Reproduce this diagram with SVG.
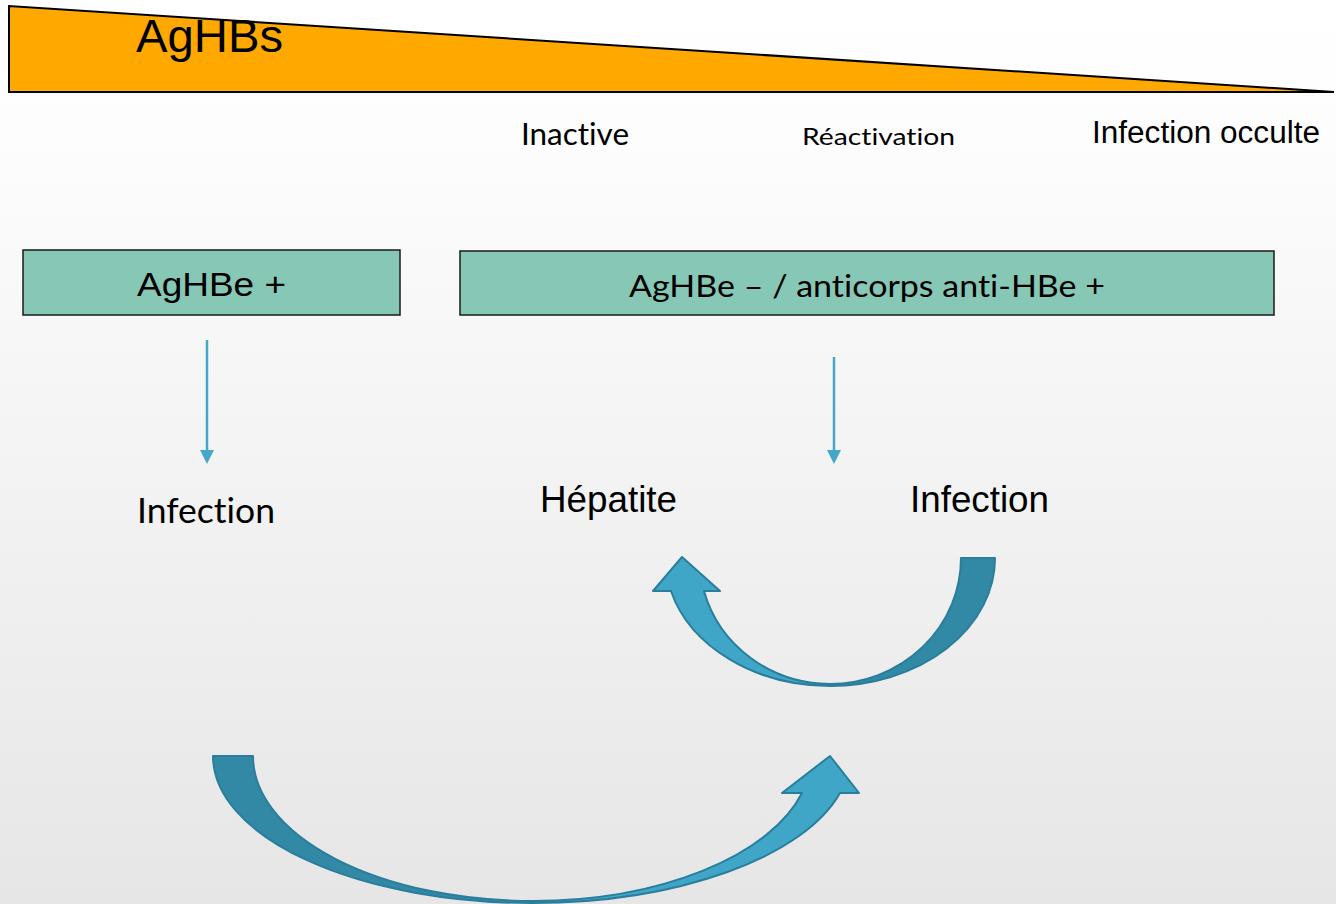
<svg xmlns="http://www.w3.org/2000/svg" width="1336" height="904" viewBox="0 0 1336 904">
  <defs>
    <linearGradient id="bg" x1="0" y1="0" x2="0" y2="1">
      <stop offset="0" stop-color="#ffffff"/>
      <stop offset="0.15" stop-color="#fdfdfd"/>
      <stop offset="1" stop-color="#e6e6e6"/>
    </linearGradient>
    <style>
      .arial { font-family: "Liberation Sans", Arial, sans-serif; fill: #000; }
      .goth { font-family: "Century Gothic", "URW Gothic", Lato, "DejaVu Sans", sans-serif; fill: #000; font-variant-ligatures: none; font-feature-settings: "liga" 0; }
      .box { fill: #86c7b6; stroke: #1a1a1a; stroke-width: 1.5; }
      .thin { stroke: #44a6c9; stroke-width: 2.5; fill: none; }
      .head { fill: #44a6c9; }
      .light { fill: #3fa6c8; stroke: #2a7e9c; stroke-width: 2; stroke-linejoin: round; }
      .dark { fill: #3189a5; stroke: #2a7e9c; stroke-width: 2; stroke-linejoin: round; }
    </style>
  </defs>
  <rect x="0" y="0" width="1336" height="904" fill="url(#bg)"/>

  <g id="aghbs">
    <polygon points="9,6 9,92 1334,92" fill="#ffa900" stroke="#000" stroke-width="2" stroke-linejoin="miter"/>
    <text class="arial" x="136" y="52" font-size="47" textLength="147" lengthAdjust="spacingAndGlyphs">AgHBs</text>
  </g>

  <g id="phase-labels">
    <text class="goth" x="521" y="145" font-size="30" textLength="108" lengthAdjust="spacingAndGlyphs">Inactive</text>
    <text class="goth" x="802" y="145" font-size="24" textLength="153" lengthAdjust="spacingAndGlyphs">Réactivation</text>
    <text class="arial" x="1092" y="143" font-size="31" textLength="228" lengthAdjust="spacingAndGlyphs">Infection occulte</text>
  </g>

  <g id="box-aghbe-pos">
    <rect class="box" x="23" y="250" width="377" height="65"/>
    <text class="arial" x="137" y="296" font-size="34" textLength="149" lengthAdjust="spacingAndGlyphs">AgHBe +</text>
  </g>

  <g id="box-aghbe-neg">
    <rect class="box" x="460" y="251" width="814" height="64"/>
    <text class="goth" x="629" y="297" font-size="31" textLength="476" lengthAdjust="spacingAndGlyphs">AgHBe – / anticorps anti-HBe +</text>
  </g>

  <g id="infection-left">
    <text class="goth" x="137" y="523" font-size="35" textLength="138" lengthAdjust="spacingAndGlyphs">Infection</text>
  </g>

  <g id="hepatite">
    <text class="arial" x="540" y="512" font-size="36" textLength="137" lengthAdjust="spacingAndGlyphs">Hépatite</text>
  </g>

  <g id="infection-right">
    <text class="arial" x="910" y="512" font-size="36" textLength="139" lengthAdjust="spacingAndGlyphs">Infection</text>
  </g>

  <g id="connectors">
    <line class="thin" x1="207" y1="340" x2="207" y2="452"/>
    <polygon class="head" points="200,450 214,450 207,464"/>
    <line class="thin" x1="834" y1="357" x2="834" y2="452"/>
    <polygon class="head" points="827,450 841,450 834,464"/>

    <g id="curved-arrow-upper">
      <path class="light" d="M830,686 A165,128 0 0 1 671,591 L653,591 L682,557 L720,591 L704,591 A131,126 0 0 0 830,684 Z"/>
      <path class="dark" d="M830,686 A165,128 0 0 0 995,558 L961,558 A131,126 0 0 1 830,684 Z"/>
    </g>

    <g id="curved-arrow-lower">
      <path class="light" d="M532,903 A319,147 0 0 0 840,793 L859,793 L830,756 L782,793 L802,793 A279,145 0 0 1 532,901 Z"/>
      <path class="dark" d="M213,756 A319,147 0 0 0 532,903 L532,901 A279,145 0 0 1 253,756 Z"/>
    </g>
  </g>
</svg>
